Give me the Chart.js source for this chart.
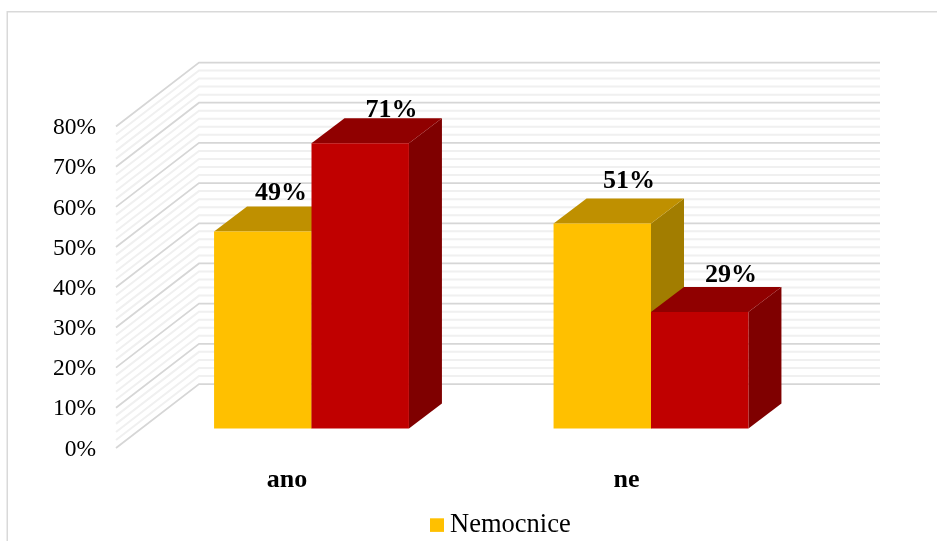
<!DOCTYPE html>
<html>
<head>
<meta charset="utf-8">
<style>
  html, body { margin: 0; padding: 0; background: #fff; }
  canvas { display: block; }
</style>
<script src="https://cdn.jsdelivr.net/npm/chart.js@4/dist/chart.umd.js"></script>
</head>
<body>
<canvas id="chart" width="937" height="541"></canvas>
<script>
// Survey shares per answer, in percent
const categories = ['ano', 'ne'];
const hospitalValues = [49, 51];
const otherValues = [71, 29];
const hospitalLabel = 'Nemocnice';
const otherLabel = '';

// Hand placement of the value labels (baseline) relative to each bar's front top centre
const hospitalLabelShift = [[18.3, -31.6], [26.6, -35.5]];
const otherLabelShift = [[31.3, -25.8], [31.2, -30.2]];

const SERIF = '"Liberation Serif", "Times New Roman", serif';
const TEXT = '#000000';

// Oblique projection used for the bar blocks and the walls behind them
const BAR_DEPTH = { dx: 33, dy: -25 };
const WALL = { frontX: 116, backX: 199, rightX: 880, frontDy: 19.5, backDy: -44.5 };

const faces = [
  { front: '#FFC000', top: '#BF9000', side: '#A27D00', shift: hospitalLabelShift },
  { front: '#C00000', top: '#900000', side: '#7F0000', shift: otherLabelShift }
];

function poly(ctx, pts, color) {
  ctx.beginPath();
  pts.forEach((p, i) => i ? ctx.lineTo(p[0], p[1]) : ctx.moveTo(p[0], p[1]));
  ctx.closePath();
  ctx.fillStyle = color;
  ctx.fill();
}

const pseudo3d = {
  id: 'pseudo3d',

  // Frame of the chart object: only its left and top edges are in view
  beforeDraw(chart) {
    const { ctx } = chart;
    ctx.save();
    ctx.strokeStyle = '#d9d9d9';
    ctx.lineWidth = 1.5;
    ctx.beginPath();
    ctx.moveTo(7.25, 541);
    ctx.lineTo(7.25, 11.75);
    ctx.lineTo(937, 11.75);
    ctx.stroke();
    ctx.restore();
  },

  // Side and back walls with major and minor gridlines
  beforeDatasetsDraw(chart) {
    const { ctx } = chart;
    const y = chart.scales.y;
    ctx.save();
    ctx.lineJoin = 'miter';
    const minor = [];
    const major = [];
    for (let v = y.min; v <= y.max; v += 2) (v % 10 === 0 ? major : minor).push(v);
    const stroke = (values, color, width) => {
      ctx.strokeStyle = color;
      ctx.lineWidth = width;
      values.forEach(v => {
        const py = y.getPixelForValue(v);
        ctx.beginPath();
        ctx.moveTo(WALL.frontX, py + WALL.frontDy);
        ctx.lineTo(WALL.backX, py + WALL.backDy);
        ctx.lineTo(WALL.rightX, py + WALL.backDy);
        ctx.stroke();
      });
    };
    stroke(minor, '#f0f0f0', 2);
    stroke(major, '#d6d6d6', 1.75);
    ctx.restore();
  },

  // Bars are painted below, series by series, so later blocks cover earlier ones
  beforeDatasetDraw() {
    return false;
  },

  afterDatasetsDraw(chart) {
    const { ctx } = chart;
    const { dx, dy } = BAR_DEPTH;
    faces.forEach((face, i) => {
      chart.getDatasetMeta(i).data.forEach(bar => {
        const l = bar.x - bar.width / 2;
        const r = bar.x + bar.width / 2;
        poly(ctx, [[r, bar.y], [r + dx, bar.y + dy], [r + dx, bar.base + dy], [r, bar.base]], face.side);
        poly(ctx, [[l, bar.y], [l + dx, bar.y + dy], [r + dx, bar.y + dy], [r, bar.y]], face.top);
        bar.draw(ctx);
      });
    });

    // Value labels above the blocks
    ctx.save();
    ctx.font = 'bold 26px ' + SERIF;
    ctx.fillStyle = TEXT;
    ctx.textAlign = 'center';
    ctx.textBaseline = 'alphabetic';
    faces.forEach((face, i) => {
      const values = chart.data.datasets[i].data;
      chart.getDatasetMeta(i).data.forEach((bar, j) => {
        const [sx, sy] = face.shift[j];
        ctx.fillText(values[j] + '%', bar.x + sx, bar.y + sy);
      });
    });
    ctx.restore();
  },

  // Legend row: one swatch per named series
  afterDraw(chart) {
    const { ctx } = chart;
    ctx.save();
    ctx.font = '26.5px ' + SERIF;
    ctx.textBaseline = 'alphabetic';
    ctx.textAlign = 'left';
    chart.data.datasets.filter(d => d.label).forEach(d => {
      ctx.fillStyle = d.backgroundColor;
      ctx.fillRect(430, 518.3, 14, 13.6);
      ctx.fillStyle = TEXT;
      ctx.fillText(d.label, 450, 531.7);
    });
    ctx.restore();
  }
};

new Chart(document.getElementById('chart'), {
  type: 'bar',
  data: {
    labels: categories,
    datasets: [
      { label: hospitalLabel, data: hospitalValues, backgroundColor: faces[0].front },
      { label: otherLabel, data: otherValues, backgroundColor: faces[1].front }
    ]
  },
  plugins: [pseudo3d],
  options: {
    responsive: false,
    animation: false,
    events: [],
    layout: { padding: { left: 0, top: 107, right: 116.25, bottom: 0 } },
    datasets: { bar: { categoryPercentage: 0.574, barPercentage: 1 } },
    scales: {
      x: {
        grid: { display: false, drawTicks: false },
        border: { display: false },
        afterFit(scale) { scale.height = 112.5; },
        ticks: {
          color: TEXT,
          font: { family: SERIF, size: 26, weight: 'bold' },
          padding: 36,
          labelOffset: -24.5,
          maxRotation: 0
        }
      },
      y: {
        min: 0,
        max: 80,
        grid: { display: false, drawTicks: false },
        border: { display: false },
        afterFit(scale) { scale.width = 141.75; },
        ticks: {
          stepSize: 10,
          color: TEXT,
          font: { family: SERIF, size: 23.5 },
          padding: 45.75,
          labelOffset: 21,
          callback: v => v + '%'
        }
      }
    },
    plugins: {
      legend: { display: false },
      tooltip: { enabled: false },
      title: { display: false }
    }
  }
});
</script>
</body>
</html>
